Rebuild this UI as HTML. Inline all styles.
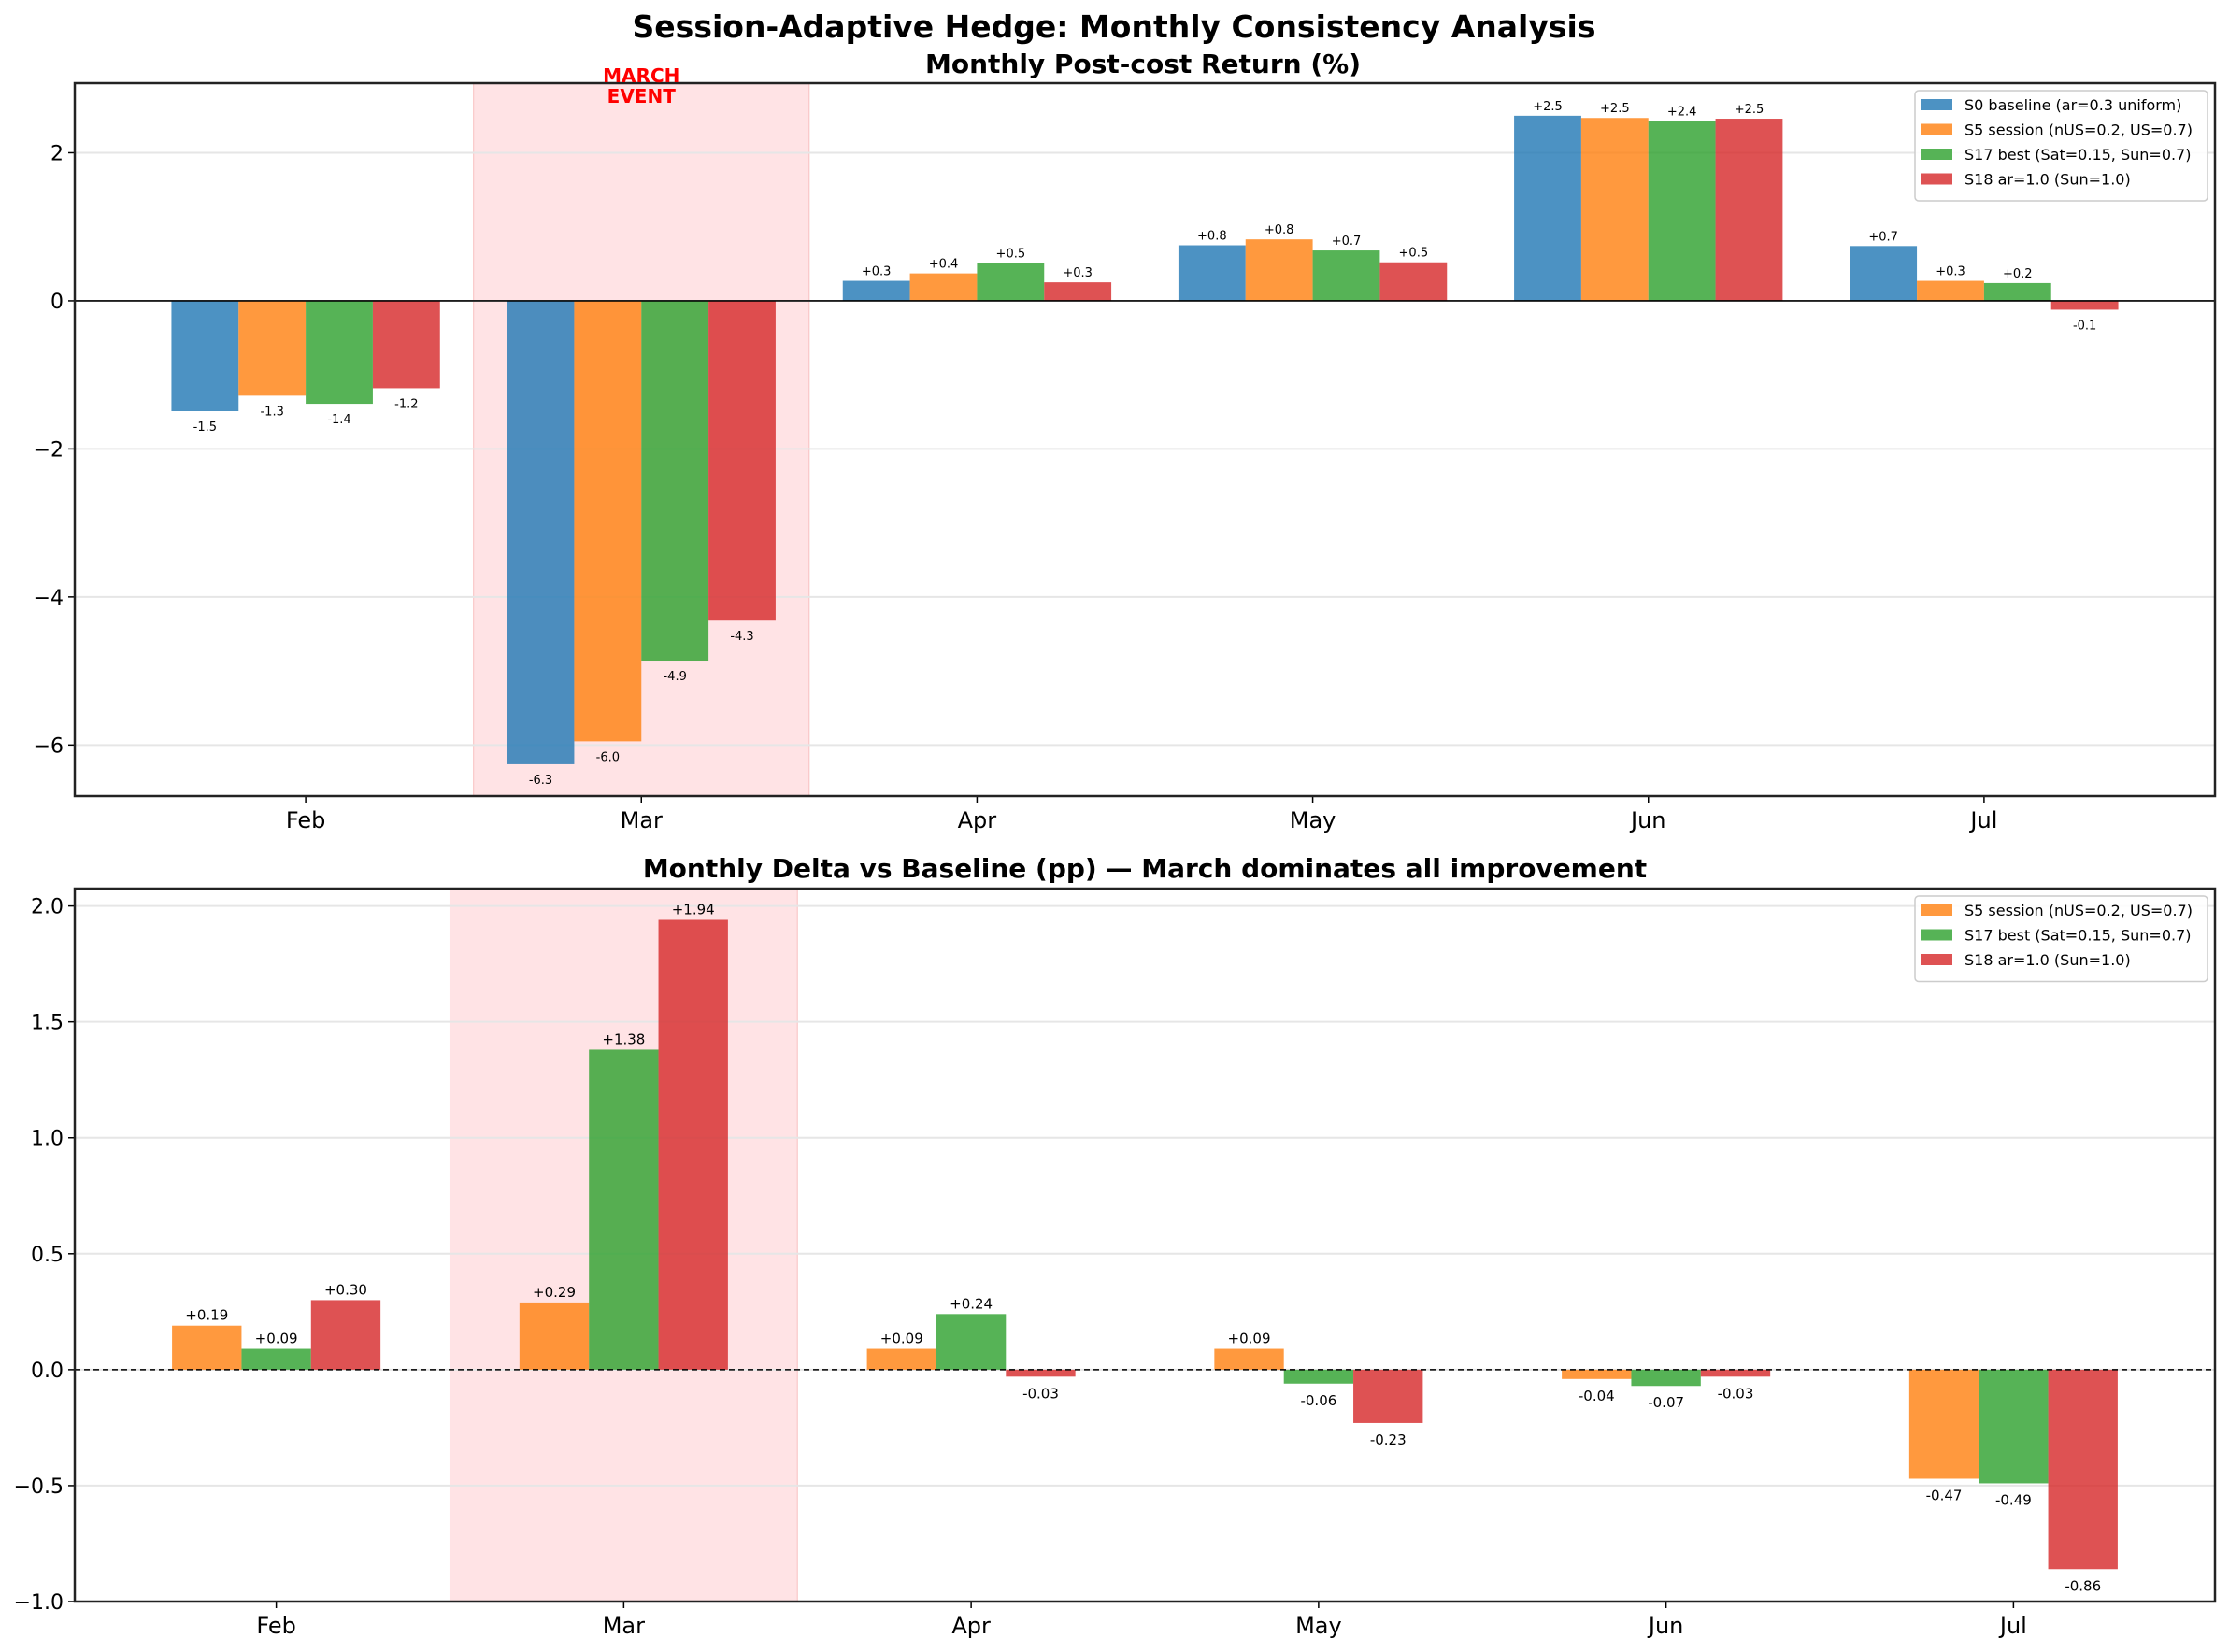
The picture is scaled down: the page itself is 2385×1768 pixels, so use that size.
<!DOCTYPE html>
<html><head><meta charset="utf-8"><style>
body{margin:0;background:#fff}
svg{display:block;font-family:"DejaVu Sans","Liberation Sans",sans-serif}
</style></head><body>
<svg id="fig" width="2385" height="1768" viewBox="0 0 2385 1768" xmlns="http://www.w3.org/2000/svg">
<rect width="2385" height="1768" fill="#fff"/>
<text x="1192" y="40" text-anchor="middle" font-size="33" font-weight="bold">Session-Adaptive Hedge: Monthly Consistency Analysis</text>
<text x="1223" y="78" text-anchor="middle" font-size="28" font-weight="bold">Monthly Post-cost Return (%)</text>
<text x="1225" y="939" text-anchor="middle" font-size="28" font-weight="bold">Monthly Delta vs Baseline (pp) — March dominates all improvement</text>
<g id="topchart"></g>
<g id="botchart"></g>
</svg>
<script>
const months = ["Feb","Mar","Apr","May","Jun","Jul"];
const topSeries = ["S0 baseline (ar=0.3 uniform)","S5 session (nUS=0.2, US=0.7)","S17 best (Sat=0.15, Sun=0.7)","S18 ar=1.0 (Sun=1.0)"];
const s0Values = [-1.49,-6.26,0.27,0.75,2.50,0.74];
const s5Values = [-1.28,-5.95,0.37,0.83,2.47,0.27];
const s17Values = [-1.39,-4.86,0.51,0.68,2.43,0.24];
const s18Values = [-1.18,-4.32,0.25,0.52,2.46,-0.12];
const topTicks = [2,0,-2,-4,-6];
const botSeries = ["S5 session (nUS=0.2, US=0.7)","S17 best (Sat=0.15, Sun=0.7)","S18 ar=1.0 (Sun=1.0)"];
const d5Values = [0.19,0.29,0.09,0.09,-0.04,-0.47];
const d17Values = [0.09,1.38,0.24,-0.06,-0.07,-0.49];
const d18Values = [0.30,1.94,-0.03,-0.23,-0.03,-0.86];
const botTicks = [2.0,1.5,1.0,0.5,0.0,-0.5,-1.0];

const NS="http://www.w3.org/2000/svg";
function mk(parent,tag,attrs,text){const e=document.createElementNS(NS,tag);for(const k in attrs)e.setAttribute(k,attrs[k]);if(text!==undefined)e.textContent=text;parent.appendChild(e);return e;}
const cols=["#1f77b4","#ff7f0e","#2ca02c","#d62728"];

function chart(g,cfg){
  const {L,R,T,B,xmin,xmax,ymin,ymax,series,names,colors,ticks,tickFmt,dec,lblSize,zeroDash,legend}=cfg;
  const xs=v=>L+(v-xmin)/(xmax-xmin)*(R-L);
  const ys=v=>T+(ymax-v)/(ymax-ymin)*(B-T);
  const sh=mk(g,"rect",{x:xs(0.5),y:T,width:xs(1.5)-xs(0.5),height:B-T,fill:"#ff9aa2",'fill-opacity':0.28,stroke:"#f4a0a0","stroke-opacity":0.6});
  
  
  ticks.forEach(t=>{
    const y=ys(t);
    const gl=mk(g,"line",{x1:L,x2:R,y1:y,y2:y,stroke:"#e6e6e6","stroke-width":2});
    
    
    mk(g,"line",{x1:L-7,x2:L,y1:y,y2:y,stroke:"#000","stroke-width":1.5});
    const tl=mk(g,"text",{x:L-12,y:y+8,"text-anchor":"end","font-size":22},tickFmt(t));
    
    
  });
  const n=series.length, w=0.2;
  series.forEach((vals,si)=>{
    vals.forEach((v,mi)=>{
      const xc=mi+(si-(n-1)/2)*w;
      const x0=xs(xc-w/2), x1=xs(xc+w/2);
      const y0=ys(Math.max(v,0)), y1=ys(Math.min(v,0));
      const r=mk(g,"rect",{x:x0,y:y0,width:x1-x0,height:y1-y0,fill:colors[si],"fill-opacity":0.8});
      
      
      const lbl=(v>=0?"+":"")+v.toFixed(dec);
      const ly=v>=0?ys(v)-6:ys(v)+lblSize+8;
      const t=mk(g,"text",{x:(x0+x1)/2,y:ly,"text-anchor":"middle","font-size":lblSize},lbl);
      
      
    });
  });
  const z=mk(g,"line",{x1:L,x2:R,y1:ys(0),y2:ys(0),stroke:"#000","stroke-width":1.6,"stroke-dasharray":zeroDash?"6,4":"none"});
  
  
  months.forEach((m,i)=>{
    const x=xs(i);
    mk(g,"line",{x1:x,x2:x,y1:B,y2:B+7,stroke:"#000","stroke-width":1.5});
    const t=mk(g,"text",{x:x,y:B+34,"text-anchor":"middle","font-size":24},m);
    
    
  });
  const fr=mk(g,"rect",{x:L,y:T,width:R-L,height:B-T,fill:"none",stroke:"#222","stroke-width":2.5});
  
  
  const lg=mk(g,"g",{});
  
  
  mk(lg,"rect",{x:legend.x,y:legend.y,width:313,height:names.length*26.5+12,rx:4,fill:"#fff","fill-opacity":0.85,stroke:"#ccc","stroke-width":1.5});
  names.forEach((nm,i)=>{
    const cy=legend.y+15+i*26.5;
    const e=mk(lg,"g",{});
    
    
    mk(e,"rect",{x:legend.x+6,y:cy-6,width:34,height:12,fill:colors[i],"fill-opacity":0.8});
    mk(e,"text",{x:legend.x+53,y:cy+6,"font-size":16},nm);
  });
  return {xs,ys};
}

const topG=document.getElementById('topchart');
const axTop=chart(topG,{L:80,R:2370,T:89,B:852,xmin:-0.688,xmax:5.688,ymin:-6.69,ymax:2.94,
  series:[s0Values,s5Values,s17Values,s18Values],names:topSeries,colors:cols,ticks:topTicks,
  tickFmt:t=>t<0?"\u2212"+Math.abs(t):String(t),dec:1,lblSize:13,zeroDash:false,legend:{x:2049,y:97}});
const me=mk(topG,"text",{x:axTop.xs(1),y:88,"text-anchor":"middle","font-size":20,"font-weight":"bold",fill:"red"});


mk(me,"tspan",{x:axTop.xs(1),dy:0},"MARCH");
mk(me,"tspan",{x:axTop.xs(1),dy:22},"EVENT");

const botG=document.getElementById('botchart');
chart(botG,{L:80,R:2370,T:951,B:1714,xmin:-0.58,xmax:5.58,ymin:-1.0,ymax:2.075,
  series:[d5Values,d17Values,d18Values],names:botSeries,colors:cols.slice(1),ticks:botTicks,
  tickFmt:t=>t<0?"\u2212"+Math.abs(t).toFixed(1):t.toFixed(1),dec:2,lblSize:15,zeroDash:true,legend:{x:2049,y:959}});
</script>
</body></html>
